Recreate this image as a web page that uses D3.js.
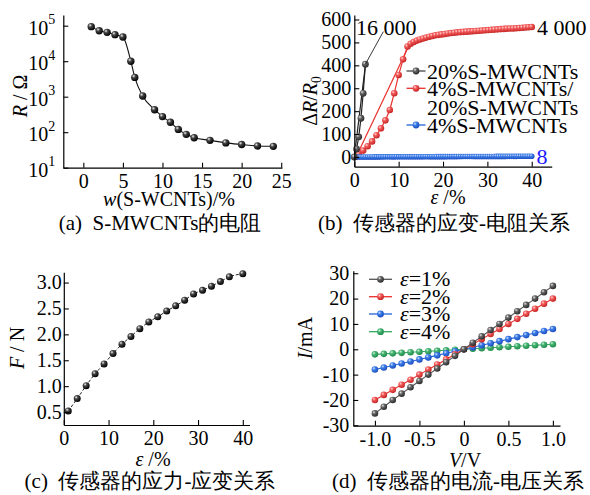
<!DOCTYPE html>
<html>
<head>
<meta charset="utf-8">
<script src="https://cdn.jsdelivr.net/npm/d3@7"></script>
<style>
  body { margin: 0; background: #fff; }
  svg { display: block; }
</style>
</head>
<body>
<div id="chart"></div>
<script>
// ---- data ----

// (a) resistance vs S-MWCNTs content
const aW = [1, 2, 3, 4, 5, 6, 6.5, 7.5, 9, 10, 11, 12, 13, 14, 16, 18, 20, 22, 24]
const aR = [94000, 72000, 65000, 56000, 48000, 10000, 3500, 1050, 430, 275, 190, 120, 87, 70, 59, 50, 45, 41, 40]
const aXTicks = [0, 5, 10, 15, 20, 25]
const aYTicks = [10, 100, 1000, 10000, 100000]

// (b) strain vs dR/R0
const bEpsBlack = [0, 0.5, 1, 1.5, 2, 2.5]
const bValBlack = [0, 35, 88, 169, 278, 405]
const bEpsRed = [0, 1, 2, 3, 4, 5, 6, 7, 8, 9, 10, 11, 12,
  12.7, 13.4, 14.1, 14.8, 15.5, 16.2, 16.9, 17.6, 18.3, 19, 19.7, 20.4, 21.1, 21.8, 22.5, 23.2, 23.9, 24.6,
  25.3, 26, 26.7, 27.4, 28.1, 28.8, 29.5, 30.2, 30.9, 31.6, 32.3, 33, 33.7, 34.4, 35.1, 35.8, 36.5, 37.2,
  37.9, 38.6, 39.3, 40]
const bValRed = [0, 12, 28, 47, 68, 95, 125, 160, 205, 278, 358, 426, 482,
  494, 502, 508, 513, 517, 521, 525, 528, 531, 533, 535, 537, 539, 541, 542, 544, 545, 546,
  547, 548, 549, 550, 551, 552, 553, 554, 555, 556, 557, 558, 559, 560, 561, 561, 562, 563,
  564, 565, 566, 567]
const bEpsBlue = [0, 0.5, 1, 1.5, 2, 2.5, 3, 3.5, 4, 4.5, 5, 5.5, 6, 6.5, 7, 7.5, 8, 8.5, 9, 9.5,
  10, 10.5, 11, 11.5, 12, 12.5, 13, 13.5, 14, 14.5, 15, 15.5, 16, 16.5, 17, 17.5, 18, 18.5, 19, 19.5,
  20, 20.5, 21, 21.5, 22, 22.5, 23, 23.5, 24, 24.5, 25, 25.5, 26, 26.5, 27, 27.5, 28, 28.5, 29, 29.5,
  30, 30.5, 31, 31.5, 32, 32.5, 33, 33.5, 34, 34.5, 35, 35.5, 36, 36.5, 37, 37.5, 38, 38.5, 39, 39.5, 40]
const bValBlue = [0, 0, 0.1, 0.1, 0.2, 0.2, 0.2, 0.3, 0.3, 0.4, 0.4, 0.4, 0.5, 0.5, 0.6, 0.6, 0.6, 0.7, 0.7, 0.8,
  0.8, 0.8, 0.9, 0.9, 1.0, 1.0, 1.0, 1.1, 1.1, 1.2, 1.2, 1.2, 1.3, 1.3, 1.4, 1.4, 1.4, 1.5, 1.5, 1.6,
  1.6, 1.6, 1.7, 1.7, 1.8, 1.8, 1.8, 1.9, 1.9, 2.0, 2.0, 2.0, 2.1, 2.1, 2.2, 2.2, 2.2, 2.3, 2.3, 2.4,
  2.4, 2.4, 2.5, 2.5, 2.6, 2.6, 2.6, 2.7, 2.7, 2.8, 2.8, 2.8, 2.9, 2.9, 3.0, 3.0, 3.0, 3.1, 3.1, 3.2, 3.2]
// straight fits drawn over the rising parts
const bFitBlack = [[0, 0], [2.6, 416]]
const bFitRed = [[0.4, 0], [12.4, 490]]
const bXTicks = [0, 10, 20, 30, 40]
const bYTicks = [0, 100, 200, 300, 400, 500, 600]

// (c) force vs strain
const cEps = [1, 3, 5, 7, 9, 11, 13, 15, 17, 19, 21, 23, 25, 27, 29, 31, 33, 35, 37, 40]
const cF = [0.52, 0.76, 1.01, 1.24, 1.43, 1.63, 1.81, 1.96, 2.11, 2.24, 2.34, 2.45, 2.55, 2.66, 2.78, 2.85, 2.93, 3.02, 3.11, 3.17]
const cXTicks = [0, 10, 20, 30, 40]
const cYTicks = [0.5, 1.0, 1.5, 2.0, 2.5, 3.0]

// (d) current vs voltage
const dV = [-1, -0.9, -0.8, -0.7, -0.6, -0.5, -0.4, -0.3, -0.2, -0.1, 0, 0.1, 0.2, 0.3, 0.4, 0.5, 0.6, 0.7, 0.8, 0.9, 1]
const dI1 = [-25.3, -22.7, -20, -17.5, -15, -12.5, -10, -7.6, -5.1, -2.6, 0, 2.6, 5.1, 7.6, 10, 12.5, 15, 17.5, 20, 22.5, 25]
const dI2 = [-20, -18, -16, -14, -12, -10, -8, -6, -4, -2, 0, 2, 4, 6, 8, 10, 12, 14, 16, 18, 20]
const dI3 = [-8, -7.2, -6.4, -5.6, -4.8, -4, -3.2, -2.4, -1.6, -0.8, 0, 0.8, 1.6, 2.4, 3.2, 4, 4.8, 5.6, 6.4, 7.2, 8]
const dI4 = [-2, -1.8, -1.6, -1.4, -1.2, -1, -0.8, -0.6, -0.4, -0.2, 0, 0.2, 0.4, 0.6, 0.8, 1, 1.2, 1.4, 1.6, 1.8, 2]
const dXTicks = [-1, -0.5, 0, 0.5, 1]
const dYTicks = [-30, -20, -10, 0, 10, 20, 30]

// ---- svg ----
var width = 590
var height = 495
const FONT = "Liberation Serif"
const TICK = 20

const svg = d3.select("#chart").append("svg")
  .attr("width", width)
  .attr("height", height)

// shaded balls for the markers
const defs = svg.append("defs")
function ball(id, c0, c1, c2) {
  const g = defs.append("radialGradient").attr("id", id)
    .attr("cx", "35%").attr("cy", "32%").attr("r", "70%")
  g.append("stop").attr("offset", "0%").attr("stop-color", c0)
  g.append("stop").attr("offset", "35%").attr("stop-color", c1)
  g.append("stop").attr("offset", "100%").attr("stop-color", c2)
}
ball("gBlack", "#f0f0f0", "#444", "#000")
ball("gGray", "#e8e8e8", "#666", "#2a2a2a")
ball("gRed", "#ffd6d6", "#f25a5a", "#c42222")
ball("gBlue", "#d6e4ff", "#3d7de6", "#1a4cc0")
ball("gGreen", "#d8f3e2", "#45b472", "#1f8a4c")

// text with italic / sub parts: parts = [[text, "i" | "sub" | ""]]
function rich(sel, parts) {
  parts.forEach(p => {
    const t = sel.append("tspan").text(p[0])
    if (p[1] === "i") t.attr("font-style", "italic")
    if (p[1] === "sub") t.attr("font-size", "0.68em").attr("dy", "0.3em")
  })
  return sel
}

function label(x, y, size, parts, rotate) {
  const t = svg.append("text")
    .attr("font-size", size)
    .attr("text-anchor", "middle")
    .style("white-space", "pre")
  if (rotate) t.attr("transform", `translate(${x},${y}) rotate(-90)`)
  else t.attr("x", x).attr("y", y)
  return rich(t, parts)
}

function styleAxis(g, size) {
  g.attr("font-family", null).attr("font-size", size)
  g.selectAll("path.domain").attr("stroke", "#000").attr("stroke-width", 1.2)
  g.selectAll(".tick line").attr("stroke", "#000").attr("stroke-width", 1.1)
  g.selectAll(".tick text").attr("fill", "#000")
}

function xAxis(x, yPix, ticks, fmt) {
  const g = svg.append("g").attr("transform", `translate(0,${yPix})`)
    .call(d3.axisBottom(x).tickValues(ticks).tickFormat(fmt).tickSizeInner(-5).tickSizeOuter(0).tickPadding(6))
  styleAxis(g, TICK)
  return g
}

function yAxis(y, xPix, ticks, fmt, pad) {
  const g = svg.append("g").attr("transform", `translate(${xPix},0)`)
    .call(d3.axisLeft(y).tickValues(ticks).tickFormat(fmt).tickSizeInner(-5).tickSizeOuter(0).tickPadding(pad))
  styleAxis(g, TICK)
  return g
}

function dots(x, y, xs, ys, r, fill) {
  svg.append("g").selectAll("circle")
    .data(xs.map((v, i) => [v, ys[i]]))
    .join("circle")
    .attr("cx", d => x(d[0]))
    .attr("cy", d => y(d[1]))
    .attr("r", r)
    .attr("fill", `url(#${fill})`)
}

function path(x, y, pts, stroke, w, curve, dash) {
  svg.append("path")
    .datum(pts)
    .attr("fill", "none")
    .attr("stroke", stroke)
    .attr("stroke-width", w)
    .attr("stroke-dasharray", dash || null)
    .attr("d", d3.line().x(d => x(d[0])).y(d => y(d[1])).curve(curve || d3.curveLinear))
}

const zip = (a, b) => a.map((v, i) => [v, b[i]])

// ================= (a) =================
const ax = d3.scaleLinear().domain([-2.53, 25.1]).range([63.3, 282])
const ay = d3.scaleLog().domain([10, 200000]).range([167.7, 15])

path(ax, ay, zip(aW, aR), "#111", 1.1, d3.curveMonotoneX)
dots(ax, ay, aW, aR, 3.7, "gBlack")

xAxis(ax, 167.7, aXTicks, d3.format("d"))
yAxis(ay, 63.3, aYTicks, () => "", 8)
  .selectAll(".tick text")
  .each(function (d) {
    const t = d3.select(this).attr("dy", "0.42em").text("10")
    t.append("tspan").attr("font-size", 14).attr("dy", "-0.75em").text(Math.round(Math.log10(d)))
  })

label(27, 96, 20, [["R", "i"], [" / Ω", ""]], true)
label(169, 206, 20, [["w", "i"], ["(S-WCNTs)/%", ""]])
label(160, 230, 21, [["(a)  S-MWCNTs的电阻", ""]])

// ================= (b) =================
const bx = d3.scaleLinear().domain([0, 44.5]).range([354.3, 551.7])
const by = d3.scaleLinear().domain([-42.3, 619.6]).range([166.7, 15])

path(bx, by, bFitRed, "#e8302c", 1.2)
path(bx, by, zip(bEpsRed, bValRed), "#e8302c", 1.2)
dots(bx, by, bEpsRed, bValRed, 3.3, "gRed")
path(bx, by, zip(bEpsBlue, bValBlue), "#2563d9", 1.2)
dots(bx, by, bEpsBlue, bValBlue, 2.8, "gBlue")
path(bx, by, bFitBlack, "#222", 1.2)
path(bx, by, zip(bEpsBlack, bValBlack), "#222", 1.2)
dots(bx, by, bEpsBlack, bValBlack, 3.4, "gGray")

// leader line to the 16 000 label
path(bx, by, [[2.5, 405], [6.55, 547]], "#222", 0.9)

xAxis(bx, 166.7, bXTicks, d3.format("d"))
yAxis(by, 354.3, bYTicks, d3.format("d"), 3)

svg.append("text").attr("x", 356).attr("y", 34.5).attr("font-size", 22).style("white-space", "pre").text("16 000")
svg.append("text").attr("x", 537).attr("y", 35).attr("font-size", 22).style("white-space", "pre").text("4 000")
svg.append("text").attr("x", 536.5).attr("y", 164).attr("font-size", 22).attr("fill", "#1a1aff").text("8")

// legend (b)
const bLegend = [
  { y: 71, stroke: "#444", fill: "gGray", lines: ["20%S-MWCNTs"] },
  { y: 88.3, stroke: "#e8302c", fill: "gRed", lines: ["4%S-MWCNTs/", "20%S-MWCNTs"] },
  { y: 125, stroke: "#2563d9", fill: "gBlue", lines: ["4%S-MWCNTs"] }
]
bLegend.forEach(d => {
  svg.append("line").attr("x1", 406.5).attr("x2", 425.5).attr("y1", d.y).attr("y2", d.y)
    .attr("stroke", d.stroke).attr("stroke-width", 1.3)
  svg.append("circle").attr("cx", 416).attr("cy", d.y).attr("r", 3.4).attr("fill", `url(#${d.fill})`)
  d.lines.forEach((s, i) => {
    svg.append("text").attr("x", 427).attr("y", d.y + 7.5 + i * 18.7).attr("font-size", 22).text(s)
  })
})

label(317, 101, 20, [["Δ", ""], ["R", "i"], ["/", ""], ["R", "i"], ["0", "sub"]], true)
label(448, 204, 20, [["ε", "i"], [" /%", ""]])
label(444, 230, 21, [["(b)  传感器的应变-电阻关系", ""]])

// ================= (c) =================
const cx = d3.scaleLinear().domain([0, 41.5]).range([63.8, 249.5])
const cy = d3.scaleLinear().domain([0.25, 3.2]).range([425, 272.2])

path(cx, cy, zip(cEps, cF), "#222", 1, d3.curveMonotoneX, "3,2")
dots(cx, cy, cEps, cF, 3.5, "gBlack")

xAxis(cx, 425, cXTicks, d3.format("d"))
yAxis(cy, 63.8, cYTicks, d3.format(".1f"), 2)

label(24, 348, 20, [["F", "i"], [" / N", ""]], true)
label(153, 466, 20, [["ε", "i"], [" /%", ""]])
label(150, 488, 21, [["(c)  传感器的应力-应变关系", ""]])

// ================= (d) =================
const dx = d3.scaleLinear().domain([-1.243, 1.08]).range([353.3, 560])
const dy = d3.scaleLinear().domain([-30.15, 31]).range([425.7, 270.7])

const dSeries = [
  { vals: dI4, stroke: "#36a862", fill: "gGreen", name: "=4%" },
  { vals: dI3, stroke: "#2563d9", fill: "gBlue", name: "=3%" },
  { vals: dI2, stroke: "#e8302c", fill: "gRed", name: "=2%" },
  { vals: dI1, stroke: "#555", fill: "gGray", name: "=1%" }
]
dSeries.forEach(s => {
  path(dx, dy, zip(dV, s.vals), s.stroke, 1.1)
  dots(dx, dy, dV, s.vals, 3.3, s.fill)
})

xAxis(dx, 425.7, dXTicks, d3.format(".1f"))
  .selectAll(".tick text").text(d => d === 0 ? "0" : d3.format(".1f")(d).replace("−", "-"))
yAxis(dy, 353.3, dYTicks, d => String(d), 4)

// legend (d)
const dLegY = [279.3, 296.7, 314, 331.7]
dSeries.slice().reverse().forEach((s, i) => {
  const yy = dLegY[i]
  svg.append("line").attr("x1", 369).attr("x2", 392).attr("y1", yy).attr("y2", yy)
    .attr("stroke", s.stroke).attr("stroke-width", 1.3)
  svg.append("circle").attr("cx", 380.5).attr("cy", yy).attr("r", 3.4).attr("fill", `url(#${s.fill})`)
  rich(svg.append("text").attr("x", 400).attr("y", yy + 7).attr("font-size", 22).style("white-space", "pre"),
    [["ε", "i"], [s.name, ""]])
})

label(312, 338, 20, [["I", "i"], ["/mA", ""]], true)
label(465, 467, 20, [["V", "i"], ["/V", ""]])
label(458, 488, 21, [["(d)  传感器的电流-电压关系", ""]])

// every text in Times-like serif (CJK falls back by itself)
svg.selectAll("text").attr("font-family", FONT).style("font-family", FONT)
svg.selectAll("text").filter(function () { return !this.getAttribute("fill") }).attr("fill", "#000")
</script>
</body>
</html>
